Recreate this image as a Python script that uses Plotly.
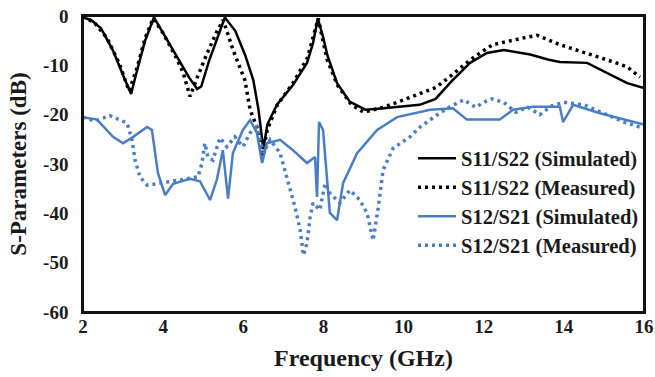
import plotly.graph_objects as go

# S11/S22 simulated
s11_sim_f = [2.0, 2.2, 2.45, 2.75, 3.0, 3.2, 3.35, 3.55, 3.77, 4.0, 4.35, 4.65, 4.85, 4.95, 5.15, 5.35, 5.54,
             5.8, 6.05, 6.25, 6.38, 6.5, 6.6, 6.84, 7.24, 7.59, 7.74, 7.86, 8.0, 8.1, 8.34, 8.66, 9.05, 9.5,
             10.0, 10.4, 10.8, 11.2, 11.66, 12.08, 12.5, 13.16, 13.6, 13.9, 14.58, 15.08, 15.58, 16.0]
s11_sim_db = [-0.3, -0.8, -2.5, -7, -12, -15.8, -11, -5, -0.3, -3.5, -8.5, -12.5, -14.8, -14.3, -9, -4.5, -0.3,
              -3, -8, -13, -19, -27, -22, -18, -14, -9.5, -5.5, -0.5, -4.5, -8, -13.6, -17.4, -19, -18.7,
              -18.3, -18, -16.8, -13.2, -9.5, -7.5, -6.9, -7.8, -8.8, -9.3, -9.5, -11.6, -13.6, -14.6]

# S11/S22 measured
s11_meas_f = [2.0, 2.3, 2.6, 2.9, 3.15, 3.35, 3.55, 3.75, 4.0, 4.3, 4.5, 4.67, 4.85, 5.1, 5.35, 5.5, 5.75,
              6.04, 6.17, 6.34, 6.47, 6.6, 6.85, 7.25, 7.6, 7.8, 7.87, 8.0, 8.1, 8.35, 8.7, 9.0, 9.5, 10.0,
              10.4, 10.8, 11.2, 11.66, 12.0, 12.23, 12.9, 13.33, 13.9, 14.58, 15.23, 15.58, 15.9]
s11_meas_db = [0, -1.5, -4.5, -9.5, -15.2, -10.5, -4.5, -0.5, -3.5, -8, -11.5, -16.3, -12.5, -7.5, -3, -0.8, -7,
               -13, -19, -22.5, -28.5, -23, -18, -13.5, -8.5, -2.5, -0.5, -5.5, -9, -14, -18, -19.5, -18.5, -17,
               -15.8, -14.5, -12, -8.9, -7, -5.8, -4.6, -3.9, -5.8, -7.5, -9.3, -10.3, -12.4]

# S12/S21 simulated
s12_sim_f = [2.0, 2.35, 2.75, 3.0, 3.25, 3.6, 3.72, 3.87, 4.05, 4.25, 4.67, 4.92, 5.17, 5.34, 5.49, 5.62, 5.74,
             5.99, 6.17, 6.34, 6.47, 6.59, 6.92, 7.24, 7.59, 7.79, 7.84, 7.89, 7.99, 8.16, 8.34, 8.49, 8.84,
             9.34, 9.84, 10.66, 11.23, 11.58, 12.4, 12.73, 13.23, 13.9, 13.98, 14.23, 14.9, 15.5, 16.0]
s12_sim_db = [-20.5, -21, -24.5, -25.8, -24.5, -22.5, -23.1, -31.8, -36.3, -34, -33, -33.5, -37.3, -33.2, -27.2,
              -37, -27.8, -23.1, -21.1, -23.7, -29.8, -25.8, -25.1, -27.2, -29.8, -28.6, -36.7, -21.5, -23.1,
              -39.9, -41.4, -33.9, -27.8, -23.1, -20.5, -19, -18.7, -21, -21, -19, -18.4, -18.4, -21.5, -18,
              -19.7, -21, -22]

# S12/S21 measured
s12_meas_f = [2.0, 2.3, 2.67, 3.1, 3.22, 3.3, 3.42, 3.6, 3.85, 4.17, 4.67, 4.87, 4.97, 5.04, 5.12, 5.24, 5.42,
              5.59, 5.79, 5.99, 6.17, 6.34, 6.5, 6.67, 6.92, 7.09, 7.29, 7.42, 7.5, 7.59, 7.67, 7.74, 7.91,
              8.04, 8.16, 8.41, 8.66, 8.91, 9.09, 9.24, 9.37, 9.49, 9.74, 10.16, 10.41, 10.9, 11.16, 11.5,
              11.8, 12.0, 12.2, 12.5, 12.8, 13.1, 13.4, 13.7, 14.0, 14.5, 15.0, 15.5, 16.0]
s12_meas_db = [-20.5, -21.3, -20.2, -21.7, -25, -29.2, -32.6, -34.3, -34, -33.6, -32.8, -32.6, -29.8, -25.8,
               -28.6, -29.2, -24.7, -26.5, -24.5, -26.5, -23.7, -22.5, -27.8, -25.1, -27.8, -32.6, -38.7,
               -43.4, -48.5, -46, -40.7, -37.9, -39.3, -33.9, -35.9, -37.9, -35.3, -37.3, -40, -45.5, -38.7,
               -31.2, -26.8, -24.5, -22.5, -19.7, -18.4, -17, -18.5, -17.5, -16.8, -17.5, -19.5, -18.5, -20,
               -18.2, -17.5, -18, -19.8, -21.5, -22.8]

series_names = ["S11/S22 (Simulated)", "S11/S22 (Measured)", "S12/S21 (Simulated)", "S12/S21 (Measured)"]

x_ticks = [2, 4, 6, 8, 10, 12, 14, 16]
y_ticks = [-60, -50, -40, -30, -20, -10, 0]

BLACK = "#000000"
BLUE = "#4A7EC4"
FONT = "Liberation Serif"


def legend_label(s):
    return "<span style='font-size:20.5px'>" + s + "</span>"


fig = go.Figure()
fig.add_trace(go.Scatter(x=s11_sim_f, y=s11_sim_db, mode="lines", name=legend_label(series_names[0]),
                         line=dict(color=BLACK, width=2.5)))
fig.add_trace(go.Scatter(x=s11_meas_f, y=s11_meas_db, mode="lines", name=legend_label(series_names[1]),
                         line=dict(color=BLACK, width=3.5, dash="3px,4px")))
fig.add_trace(go.Scatter(x=s12_sim_f, y=s12_sim_db, mode="lines", name=legend_label(series_names[2]),
                         line=dict(color=BLUE, width=2.5)))
fig.add_trace(go.Scatter(x=s12_meas_f, y=s12_meas_db, mode="lines", name=legend_label(series_names[3]),
                         line=dict(color=BLUE, width=3.5, dash="3px,4px")))

fig.update_layout(
    width=655, height=377,
    margin=dict(l=83, r=11, t=16, b=65),
    paper_bgcolor="white", plot_bgcolor="white",
    font=dict(family=FONT, color="#1a1a1a", size=19, weight="bold"),
    showlegend=True,
    legend=dict(x=1.0, xanchor="right", y=0.585, yanchor="top", bgcolor="rgba(0,0,0,0)",
                font=dict(family=FONT, size=20, weight="bold", color="#1a1a1a"),
                itemwidth=38),
    xaxis=dict(range=[2, 16], tickvals=x_ticks, ticktext=[str(v) for v in x_ticks],
               showgrid=False, zeroline=False, showline=True, linecolor="#111", linewidth=1.5,
               mirror=True, ticks="", tickfont=dict(size=19), automargin=False,
               ticklabeloverflow="allow", ticklabelstandoff=-4,
               title=dict(text="Frequency (GHz)", font=dict(size=24), standoff=14)),
    yaxis=dict(range=[-60, 0], tickvals=y_ticks, ticktext=[str(v) for v in y_ticks],
               showgrid=False, zeroline=False, showline=True, linecolor="#111", linewidth=1.5,
               mirror=True, ticks="", tickfont=dict(size=19), automargin=False, ticklabelstandoff=9,
               ticklabeloverflow="allow",
               title=dict(text="S-Parameters (dB)", font=dict(size=23), standoff=10)),
    shapes=[dict(type="rect", xref="paper", yref="paper", x0=0, x1=1, y0=0, y1=1,
                 line=dict(color="#111", width=2), fillcolor="rgba(0,0,0,0)", layer="above")],
)

# remove the default 8px page margin so the figure sits at the window's top-left corner
fig.write_html("out.html", config={"displayModeBar": False},
               post_script="document.body.style.margin='0';")
